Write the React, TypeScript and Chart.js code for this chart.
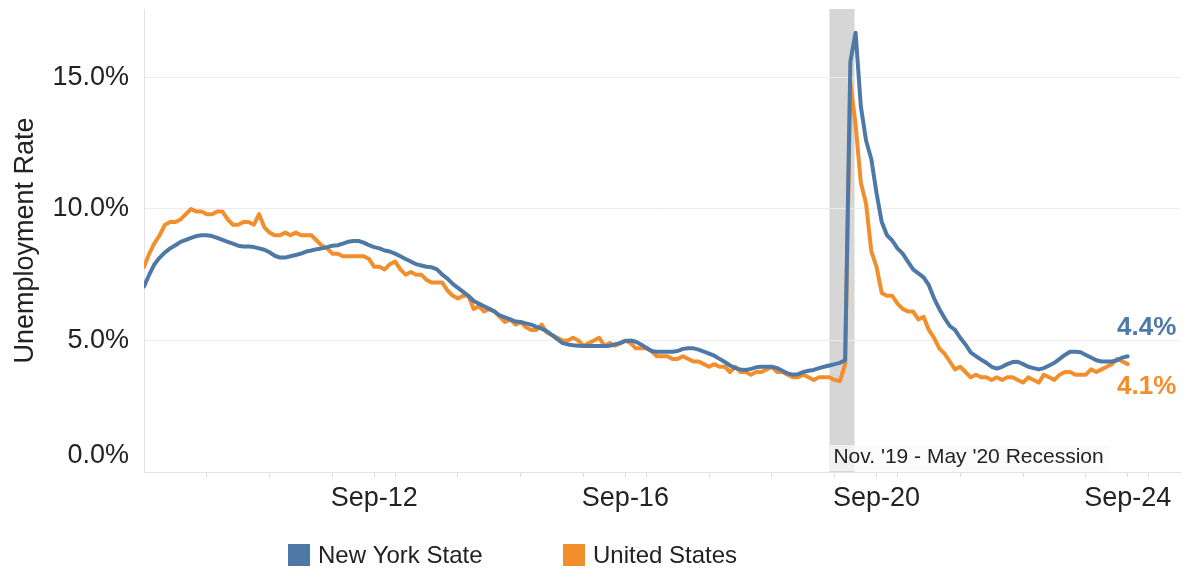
import React, { useEffect, useRef } from 'react';
import { Chart, registerables } from 'chart.js';

Chart.register(...registerables);

// Monthly unemployment rate (%), Jan 2009 (index 0) .. Sep 2024 (index 188)
const nyRate: number[] = [
  // 2009
  7.05, 7.5, 7.9, 8.15, 8.35, 8.5, 8.62, 8.75, 8.82, 8.9, 8.97, 9.0,
  // 2010
  9.0, 8.97, 8.9, 8.82, 8.75, 8.68, 8.6, 8.57, 8.57, 8.55, 8.5, 8.45,
  // 2011
  8.35, 8.22, 8.15, 8.15, 8.2, 8.25, 8.3, 8.38, 8.42, 8.47, 8.5, 8.55,
  // 2012
  8.6, 8.62, 8.68, 8.75, 8.78, 8.78, 8.72, 8.62, 8.55, 8.5, 8.42, 8.38,
  // 2013
  8.3, 8.2, 8.1, 8.0, 7.9, 7.85, 7.8, 7.78, 7.7, 7.5, 7.35, 7.15,
  // 2014
  7.0, 6.85, 6.7, 6.5, 6.4, 6.3, 6.2, 6.1, 5.95, 5.88, 5.8, 5.72,
  // 2015
  5.7, 5.65, 5.6, 5.52, 5.45, 5.35, 5.2, 5.05, 4.9, 4.85, 4.82, 4.8,
  // 2016
  4.79, 4.79, 4.79, 4.79, 4.79, 4.8, 4.85, 4.9, 4.98, 5.0, 4.95, 4.85,
  // 2017
  4.72, 4.6, 4.57, 4.57, 4.57, 4.57, 4.6, 4.68, 4.7, 4.7, 4.65, 4.58,
  // 2018
  4.5, 4.42, 4.3, 4.18, 4.05, 3.95, 3.9, 3.88, 3.92, 3.98, 4.0, 4.0,
  // 2019
  4.0, 3.95, 3.85, 3.75, 3.7, 3.72, 3.8, 3.85, 3.88, 3.95, 4.0, 4.05,
  // 2020
  4.1, 4.15, 4.25, 15.6, 16.7, 13.9, 12.6, 11.9, 10.6, 9.5, 9.0, 8.8,
  // 2021
  8.5, 8.3, 8.0, 7.7, 7.55, 7.4, 7.1, 6.6, 6.2, 5.85, 5.55, 5.4,
  // 2022
  5.1, 4.85, 4.55, 4.4, 4.27, 4.15, 4.0, 3.93, 4.0, 4.1, 4.18, 4.19,
  // 2023
  4.1, 4.0, 3.95, 3.9, 3.95, 4.05, 4.15, 4.3, 4.45, 4.57, 4.57, 4.55,
  // 2024
  4.45, 4.35, 4.25, 4.2, 4.2, 4.2, 4.25, 4.35, 4.4,
];

const usRate: number[] = [
  // 2009
  7.8, 8.3, 8.7, 9.0, 9.4, 9.5, 9.5, 9.6, 9.8, 10.0, 9.9, 9.9,
  // 2010
  9.8, 9.8, 9.9, 9.9, 9.6, 9.4, 9.4, 9.5, 9.5, 9.4, 9.8, 9.3,
  // 2011
  9.1, 9.0, 9.0, 9.1, 9.0, 9.1, 9.0, 9.0, 9.0, 8.8, 8.6, 8.5,
  // 2012
  8.3, 8.3, 8.2, 8.2, 8.2, 8.2, 8.2, 8.1, 7.8, 7.8, 7.7, 7.9,
  // 2013
  8.0, 7.7, 7.5, 7.6, 7.5, 7.5, 7.3, 7.2, 7.2, 7.2, 6.9, 6.7,
  // 2014
  6.6, 6.7, 6.7, 6.2, 6.3, 6.1, 6.2, 6.1, 5.9, 5.7, 5.8, 5.6,
  // 2015
  5.7, 5.5, 5.4, 5.4, 5.6, 5.3, 5.2, 5.1, 5.0, 5.0, 5.1, 5.0,
  // 2016
  4.8, 4.9, 5.0, 5.1, 4.8, 4.9, 4.8, 4.9, 5.0, 4.9, 4.7, 4.7,
  // 2017
  4.7, 4.6, 4.4, 4.4, 4.4, 4.3, 4.3, 4.4, 4.3, 4.2, 4.2, 4.1,
  // 2018
  4.0, 4.1, 4.0, 4.0, 3.8, 4.0, 3.8, 3.8, 3.7, 3.8, 3.8, 3.9,
  // 2019
  4.0, 3.8, 3.8, 3.7, 3.6, 3.6, 3.7, 3.6, 3.5, 3.6, 3.6, 3.6,
  // 2020
  3.5, 3.45, 4.1, 14.8, 13.2, 11.0, 10.2, 8.4, 7.8, 6.8, 6.7, 6.7,
  // 2021
  6.4, 6.2, 6.1, 6.1, 5.8, 5.9, 5.4, 5.1, 4.7, 4.5, 4.2, 3.9,
  // 2022
  4.0, 3.8, 3.6, 3.7, 3.6, 3.6, 3.5, 3.6, 3.5, 3.6, 3.6, 3.5,
  // 2023
  3.4, 3.6, 3.5, 3.4, 3.7, 3.6, 3.5, 3.7, 3.8, 3.8, 3.7, 3.7,
  // 2024
  3.7, 3.9, 3.8, 3.9, 4.0, 4.1, 4.3, 4.2, 4.1,
];

const seriesNames = ['New York State', 'United States'];
const seriesColors = ['#4e79a7', '#f28e2b'];

// month index from Jan 2009
const xTickMonths = [44, 92, 140, 188];
const xTickLabels = ['Sep-12', 'Sep-16', 'Sep-20', 'Sep-24'];
const xJanMonths = [12, 24, 36, 48, 60, 72, 84, 96, 108, 120, 132, 144, 156, 168, 180, 192];
const yTickValues = [0, 5, 10, 15];
const yTickLabels = ['0.0%', '5.0%', '10.0%', '15.0%'];
const yTitle = 'Unemployment Rate';
const recessionLabel = "Nov. '19 - May '20 Recession";
const recessionStart = 131;
const recessionEnd = 135.8;

const FONT = '"Liberation Sans", Arial, Helvetica, sans-serif';
const TEXT = '#222';

export default function App() {
  const ref = useRef<HTMLCanvasElement | null>(null);

  useEffect(() => {
    document.body.style.margin = '0';
    const canvas = ref.current;
    if (!canvas) return;

    const decorPlugin = {
      id: 'decor',
      beforeDraw(chart: any) {
        const { ctx, chartArea } = chart;
        const xs = chart.scales.x;
        const x1 = xs.getPixelForValue(recessionStart);
        const x2 = xs.getPixelForValue(recessionEnd);
        ctx.save();
        ctx.fillStyle = '#d6d6d6';
        ctx.fillRect(x1, chartArea.top, x2 - x1, chartArea.bottom - chartArea.top);
        ctx.restore();
      },
      afterDatasetsDraw(chart: any) {
        const { ctx, chartArea } = chart;
        const xs = chart.scales.x;
        const ys = chart.scales.y;
        const x1 = xs.getPixelForValue(recessionStart);
        ctx.save();
        // recession label box
        ctx.font = `21px ${FONT}`;
        const tw = ctx.measureText(recessionLabel).width;
        ctx.fillStyle = 'rgba(250,250,250,0.72)';
        ctx.fillRect(x1, chartArea.bottom - 27, tw + 9, 26);
        ctx.fillStyle = TEXT;
        ctx.textBaseline = 'middle';
        ctx.textAlign = 'left';
        ctx.fillText(recessionLabel, x1 + 4, chartArea.bottom - 15);

        // end-value labels
        const series = [nyRate, usRate];
        const offsets = [-28, 23];
        ctx.font = `bold 26px ${FONT}`;
        series.forEach((s, i) => {
          const last = s[s.length - 1];
          const y = ys.getPixelForValue(last) + offsets[i];
          ctx.fillStyle = seriesColors[i];
          ctx.fillText(`${last.toFixed(1)}%`, 1117, y);
        });

        // legend
        const legendX = [288, 563];
        const legendY = 555;
        ctx.font = `24px ${FONT}`;
        seriesNames.forEach((name, i) => {
          ctx.fillStyle = seriesColors[i];
          ctx.fillRect(legendX[i], legendY - 11, 22, 22);
          ctx.fillStyle = TEXT;
          ctx.fillText(name, legendX[i] + 30, legendY + 1);
        });
        ctx.restore();
      },
    };

    const chart = new Chart(canvas, {
      type: 'line',
      data: {
        datasets: [
          {
            label: seriesNames[0],
            data: nyRate.map((v, i) => ({ x: i, y: v })),
            borderColor: seriesColors[0],
            backgroundColor: seriesColors[0],
            borderWidth: 4,
            pointRadius: 0,
            tension: 0,
            borderJoinStyle: 'round',
            borderCapStyle: 'round',
          },
          {
            label: seriesNames[1],
            data: usRate.map((v, i) => ({ x: i, y: v })),
            borderColor: seriesColors[1],
            backgroundColor: seriesColors[1],
            borderWidth: 4,
            pointRadius: 0,
            tension: 0,
            borderJoinStyle: 'round',
            borderCapStyle: 'round',
          },
        ],
      },
      options: {
        responsive: false,
        animation: false,
        events: [],
        layout: { padding: { top: 9, right: 3, left: 0, bottom: 0 } },
        plugins: {
          legend: { display: false },
          tooltip: { enabled: false },
        },
        scales: {
          x: {
            type: 'linear',
            min: 0,
            max: 198,
            afterBuildTicks: (scale: any) => {
              const vals = [...xJanMonths, ...xTickMonths].sort((a, b) => a - b);
              scale.ticks = vals.map((v) => ({ value: v }));
            },
            afterFit: (scale: any) => {
              scale.height = 100;
              scale.paddingLeft = 0;
              scale.paddingRight = 0;
            },
            ticks: {
              autoSkip: false,
              maxRotation: 0,
              minRotation: 0,
              padding: 5,
              color: TEXT,
              font: { family: FONT, size: 27 },
              callback: (value: any) => {
                const idx = xTickMonths.indexOf(Number(value));
                return idx >= 0 ? xTickLabels[idx] : '';
              },
            },
            grid: {
              drawOnChartArea: false,
              drawTicks: true,
              tickLength: 5,
              color: '#dcdcdc',
            },
            border: { display: true, color: '#e2e2e2', width: 1 },
          },
          y: {
            min: 0,
            max: 17.6,
            afterBuildTicks: (scale: any) => {
              scale.ticks = yTickValues.map((v) => ({ value: v }));
            },
            afterFit: (scale: any) => {
              scale.width = 144;
              scale.paddingTop = 0;
              scale.paddingBottom = 0;
            },
            ticks: {
              padding: 15,
              color: TEXT,
              font: { family: FONT, size: 27 },
              callback: (value: any) => {
                const idx = yTickValues.indexOf(Number(value));
                if (idx < 0) return '';
                return idx === 0 ? [yTickLabels[idx], ''] : yTickLabels[idx];
              },
            },
            grid: {
              drawTicks: false,
              color: (c: any) => (c.tick && c.tick.value === 0 ? 'rgba(0,0,0,0)' : '#ececec'),
              lineWidth: 1,
            },
            border: { display: true, color: '#e2e2e2', width: 1 },
            title: {
              display: true,
              text: yTitle,
              color: TEXT,
              font: { family: FONT, size: 27 },
              padding: { top: 9, bottom: 0 },
            },
          },
        },
      },
      plugins: [decorPlugin],
    } as any);

    return () => chart.destroy();
  }, []);

  return (
    <div style={{ width: 1183, height: 572, background: '#fff' }}>
      <canvas ref={ref} width={1183} height={572} style={{ display: 'block' }} />
    </div>
  );
}
